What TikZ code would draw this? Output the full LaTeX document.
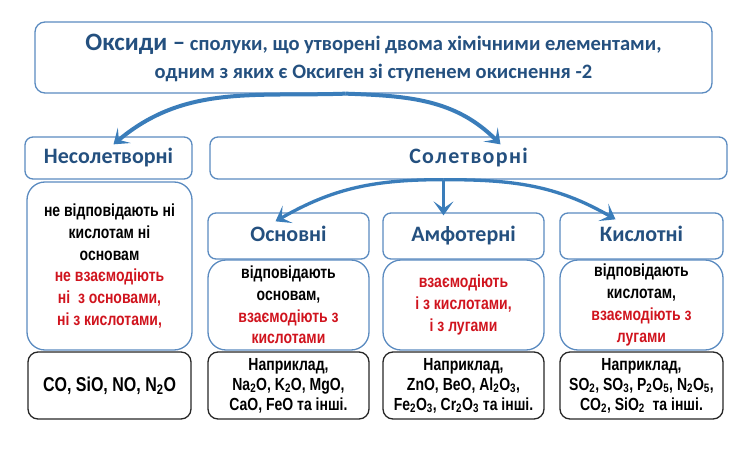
\documentclass[tikz,border=0pt]{standalone}
\usepackage{fontspec}
\setmainfont{Carlito}
\newfontfamily\bodyfont[FakeStretch=0.8]{Liberation Sans}
\usetikzlibrary{arrows.meta}
\definecolor{boxblue}{HTML}{5B8BC0}
\definecolor{arrowblue}{HTML}{3A7DBA}
\definecolor{headblue}{HTML}{24507F}
\definecolor{textred}{HTML}{D0141E}
\newcommand\ix[1]{\textsubscript{#1}}
\tikzset{
  topbox/.style={draw=boxblue,line width=1.3pt,rounded corners=10pt,minimum width=677pt,minimum height=71pt,align=center,text=headblue,font=\bfseries\fontsize{20.5}{28}\selectfont},
  headbox/.style={draw=boxblue,line width=1.3pt,rounded corners=8pt,text=headblue,text height=15pt,text depth=4pt,font=\bfseries\fontsize{22}{26}\selectfont},
  descbox/.style={draw=boxblue,line width=1.3pt,rounded corners=18pt,align=center,font=\bodyfont\bfseries\fontsize{17.5}{21.7}\selectfont},
  exbox/.style={draw=black!85,line width=1.3pt,rounded corners=10pt,minimum height=67pt,align=center,font=\bodyfont\bfseries\fontsize{17.5}{20}\selectfont},
  bigarrow/.style={draw=arrowblue,line width=4pt,-{Stealth[length=14pt,width=20pt,inset=7pt]}},
}
\begin{document}
\begin{tikzpicture}[x=1pt,y=1pt]
  \useasboundingbox (0,0) rectangle (748,451);
  % definition
  \node[topbox] (oxides) at (373.5,393.5) {{\fontsize{25}{28}\selectfont Оксиди –} сполуки, що утворені двома хімічними елементами,\\ одним з яких є Оксиген зі ступенем окиснення -2};
  % two big groups
  \node[headbox,minimum width=167pt,minimum height=42pt] (nonsalt) at (108.5,293) {Несолетворні};
  \node[headbox,minimum width=517pt,minimum height=42pt] (salt) at (468.5,293) {\addfontfeature{LetterSpace=6}Солетворні};
  \node[descbox,minimum width=165pt,minimum height=168pt] (nonsaltdesc) at (109.5,185) {не відповідають ні\\ кислотам ні\\ основам\\ \color{textred}не взаємодіють\\ \color{textred}ні~~з основами,\\ \color{textred}ні з кислотами,};
  \node[exbox,minimum width=163pt] (nonsaltex) at (109.5,65.5) {\fontsize{20}{20}\selectfont CO, SiO, NO, N\ix{2}O};
  % salt-forming kinds
  \node[headbox,minimum width=161pt,minimum height=46pt] (basic) at (288.5,215) {Основні};
  \node[headbox,minimum width=161pt,minimum height=46pt] (amph) at (463.5,215) {Амфотерні};
  \node[headbox,minimum width=163pt,minimum height=46pt] (acid) at (641.5,215) {Кислотні};
  \node[descbox,minimum width=161pt,minimum height=90pt] (basicdesc) at (288.5,146) {відповідають\\ основам,\\ \color{textred}взаємодіють з\\ \color{textred}кислотами};
  \node[descbox,minimum width=161pt,minimum height=90pt,text=textred] (amphdesc) at (463.5,146) {взаємодіють\\ і з кислотами,\\ і з лугами};
  \node[descbox,minimum width=163pt,minimum height=90pt] (aciddesc) at (641.5,146) {відповідають\\ кислотам,\\ \color{textred}взаємодіють з\\ \color{textred}лугами};
  \node[exbox,minimum width=161pt] (basicex) at (288.5,65.5) {Наприклад,\\ Na\ix2O, K\ix2O, MgO,\\ CaO, FeO та інші.};
  \node[exbox,minimum width=161pt] (amphex) at (463.5,65.5) {Наприклад,\\ ZnO, BeO, Al\ix2O\ix3,\\ Fe\ix2O\ix3, Cr\ix2O\ix3 та інші.};
  \node[exbox,minimum width=163pt] (acidex) at (641.5,65.5) {Наприклад,\\ SO\ix2, SO\ix3, P\ix2O\ix5, N\ix2O\ix5,\\ CO\ix2, SiO\ix2~ та інші.};
  % arrows
  \coordinate (topfork) at ([xshift=-28pt]oxides.south);
  \coordinate (saltfork) at ([xshift=-25pt]salt.south);
  \draw[bigarrow] (topfork) to[out=182,in=40] ([xshift=5pt,yshift=-8pt]nonsalt.north);
  \draw[bigarrow] (topfork) to[out=-2,in=135] ([xshift=32pt,yshift=-8pt]salt.north);
  \draw[bigarrow,line width=3.3pt] (saltfork) to[out=180,in=30] ([xshift=-13pt,yshift=-9pt]basic.north);
  \draw[bigarrow,line width=3.3pt] (saltfork) -- ([xshift=-20pt,yshift=-3pt]amph.north);
  \draw[bigarrow,line width=3.3pt] (saltfork) to[out=0,in=150] ([xshift=-26pt,yshift=-7pt]acid.north);
\end{tikzpicture}
\end{document}
